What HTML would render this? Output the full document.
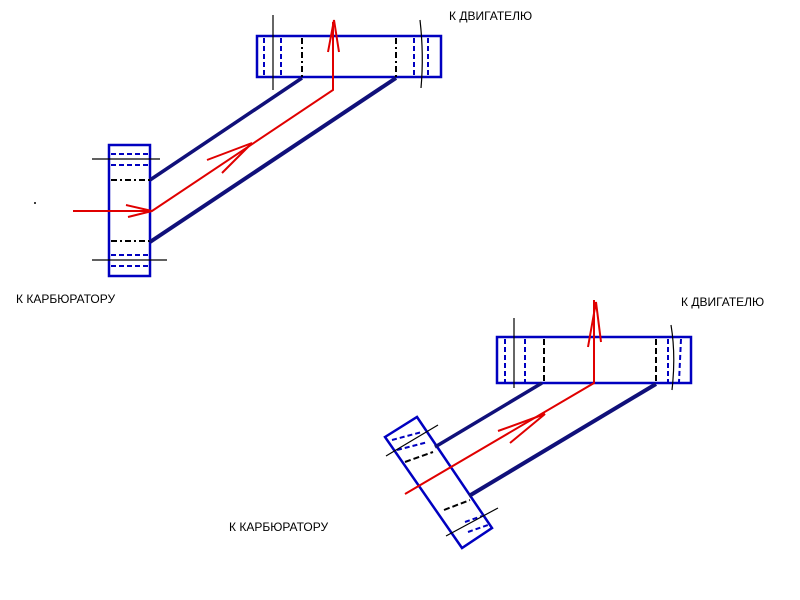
<!DOCTYPE html><html><head><meta charset="utf-8"><style>body{margin:0;background:#fff}svg{display:block}text{font-family:"Liberation Sans",sans-serif;font-size:12px;fill:#000}</style></head><body>
<svg width="800" height="600" viewBox="0 0 800 600">
<rect width="800" height="600" fill="#fff"/>
<!-- top diagram -->
<g fill="none">
<rect x="257" y="36" width="184" height="41" stroke="#0000c0" stroke-width="2.5"/>
<rect x="109" y="145" width="41" height="131" stroke="#0000c0" stroke-width="2.5"/>
<g stroke="#0000c0" stroke-width="2" stroke-dasharray="5,3">
<line x1="264" y1="38" x2="264" y2="76"/><line x1="281" y1="38" x2="281" y2="76"/><line x1="414" y1="38" x2="414" y2="76"/><line x1="428" y1="38" x2="428" y2="76"/>
<line x1="111" y1="154" x2="149" y2="154"/><line x1="111" y1="165" x2="149" y2="165"/><line x1="111" y1="255" x2="149" y2="255"/><line x1="111" y1="266" x2="149" y2="266"/>
</g>
<g stroke="#000" stroke-width="2" stroke-dasharray="6,3,2,3">
<line x1="302" y1="38" x2="302" y2="78"/><line x1="396" y1="38" x2="396" y2="78"/>
<line x1="111" y1="180" x2="150" y2="180"/><line x1="111" y1="241" x2="150" y2="241"/>
</g>
<g stroke="#000" stroke-width="1.2">
<line x1="273" y1="15" x2="273" y2="90"/><path d="M420 20 Q424 55 421 88"/>
<line x1="92" y1="159" x2="160" y2="159"/><line x1="92" y1="260" x2="167" y2="260"/>
</g>
<line x1="150" y1="180" x2="302" y2="78" stroke="#10107a" stroke-width="3.5"/>
<line x1="150" y1="242" x2="396" y2="78" stroke="#10107a" stroke-width="4"/>
<g stroke="#e00000" stroke-width="2">
<polyline points="73,211 152,211 333,90 333,22"/>
<path d="M126 205 L152 211 L128 217"/>
<path d="M207 160 L252 143 L222 173"/>
<path d="M328 52 L334 20 L339 52"/>
</g>
<!-- bottom diagram -->
<rect x="497" y="337" width="194" height="46" stroke="#0000c0" stroke-width="2.5"/>
<polygon points="385,437 417,417 492,528 462,548" stroke="#0000c0" stroke-width="2.5"/>
<g stroke="#0000c0" stroke-width="2" stroke-dasharray="5,3">
<line x1="505" y1="339" x2="505" y2="382"/><line x1="525" y1="339" x2="525" y2="382"/><line x1="668" y1="339" x2="668" y2="382"/><line x1="681" y1="339" x2="679" y2="382"/>
<line x1="392" y1="440" x2="422" y2="432"/><line x1="397" y1="450" x2="428" y2="442"/><line x1="465" y1="522" x2="482" y2="516"/><line x1="468" y1="532" x2="488" y2="525"/>
</g>
<g stroke="#000" stroke-width="2" stroke-dasharray="6,3">
<line x1="544" y1="339" x2="544" y2="383"/><line x1="656" y1="339" x2="656" y2="383"/>
<line x1="405" y1="462" x2="433" y2="452"/><line x1="444" y1="510" x2="470" y2="500"/>
</g>
<g stroke="#000" stroke-width="1.2">
<line x1="514" y1="318" x2="514" y2="388"/><path d="M671 325 Q676 355 672 390"/>
<line x1="386" y1="456" x2="438" y2="425"/><line x1="446" y1="536" x2="498" y2="508"/>
</g>
<line x1="435" y1="447" x2="542" y2="383" stroke="#10107a" stroke-width="3.5"/>
<line x1="469" y1="496" x2="656" y2="384" stroke="#10107a" stroke-width="4"/>
<g stroke="#e00000" stroke-width="2">
<polyline points="405,494 594,383 594,300"/>
<path d="M498 431 L545 414 L510 443"/>
<path d="M588 347 L596 302 L601 342"/>
</g>
</g>
<circle cx="35" cy="203" r="1" fill="#000"/>
<text x="449" y="20">К ДВИГАТЕЛЮ</text>
<text x="681" y="306">К ДВИГАТЕЛЮ</text>
<text x="16" y="303">К КАРБЮРАТОРУ</text>
<text x="229" y="531">К КАРБЮРАТОРУ</text>
</svg></body></html>
